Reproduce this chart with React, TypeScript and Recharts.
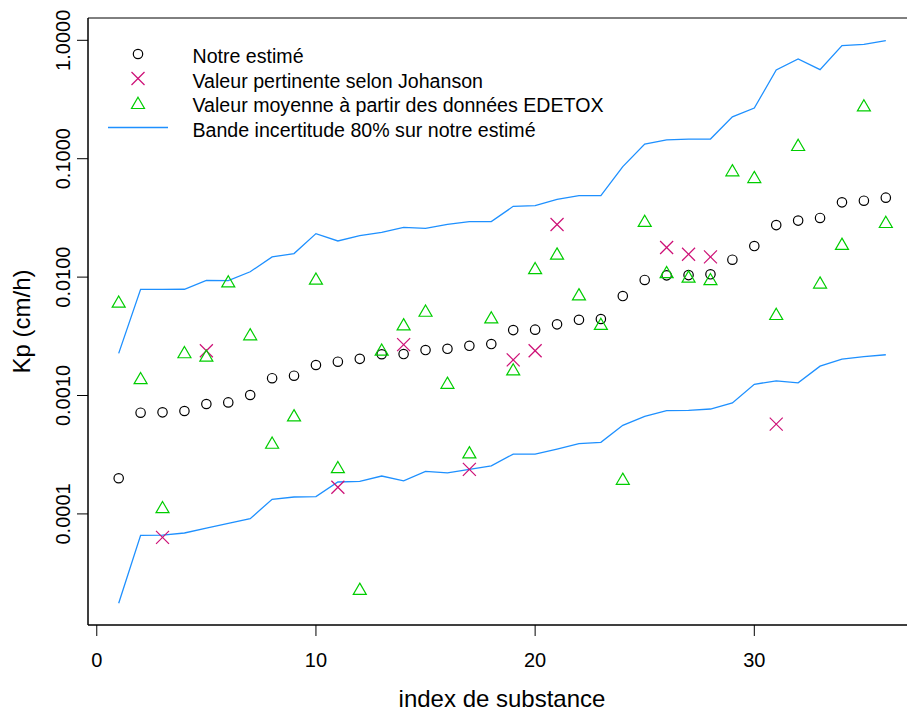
import {
  ComposedChart,
  Line,
  Scatter,
  XAxis,
  YAxis,
  ReferenceArea,
} from 'recharts'

const FONT = '"Liberation Sans", Arial, sans-serif'
const BLUE = '#1E90FF'
const PINK = '#CD1076'
const GREEN = '#00CD00'

// substance index 1..36
const substance = [
  1, 2, 3, 4, 5, 6, 7, 8, 9, 10, 11, 12, 13, 14, 15, 16, 17, 18,
  19, 20, 21, 22, 23, 24, 25, 26, 27, 28, 29, 30, 31, 32, 33, 34, 35, 36,
]

const estimate = [
  0.0002, 0.000716, 0.000721, 0.00074, 0.000848, 0.000875, 0.00101, 0.0014, 0.00147,
  0.00181, 0.00193, 0.00204, 0.00223, 0.00224, 0.00242, 0.00248, 0.00263, 0.00272,
  0.00357, 0.0036, 0.00399, 0.00436, 0.00443, 0.00692, 0.00946, 0.01035, 0.0104,
  0.01056, 0.01403, 0.0183, 0.0275, 0.03, 0.0316, 0.0428, 0.0442, 0.0469,
]

const upperBand = [
  0.00227, 0.00789, 0.00789, 0.0079, 0.0094, 0.00933, 0.0111, 0.0148, 0.0158,
  0.0233, 0.0202, 0.0224, 0.0239, 0.0263, 0.0258, 0.0279, 0.0294, 0.0294,
  0.0396, 0.0401, 0.0454, 0.0487, 0.0487, 0.0857, 0.133, 0.144, 0.1466,
  0.1466, 0.226, 0.268, 0.561, 0.695, 0.565, 0.901, 0.925, 0.993,
]

const lowerBand = [
  0.0000176, 0.0000659, 0.0000662, 0.000069, 0.000076, 0.0000832, 0.0000912, 0.000133, 0.000139,
  0.00014, 0.000186, 0.000188, 0.000209, 0.00019, 0.000229, 0.000222, 0.000238, 0.000255,
  0.00032, 0.00032, 0.000353, 0.000392, 0.000402, 0.00056, 0.000667, 0.000744, 0.000748,
  0.000769, 0.000865, 0.001245, 0.00133, 0.00128, 0.00177, 0.00203, 0.00213, 0.00221,
]

const edetox = [
  0.0062, 0.0014, 0.000114, 0.00232, 0.00217, 0.0092, 0.00329, 0.000399, 0.00068,
  0.0097, 0.000248, 0.0000233, 0.00244, 0.00399, 0.0052, 0.00128, 0.000331, 0.00457,
  0.00166, 0.0119, 0.0158, 0.00715, 0.00402, 0.000198, 0.0298, 0.011, 0.0101,
  0.0096, 0.0798, 0.07, 0.00488, 0.1305, 0.009, 0.0191, 0.282, 0.0292,
]

const johansonIndex = [3, 5, 11, 14, 17, 19, 20, 21, 26, 27, 28, 31]
const johanson = [
  0.0000634, 0.00239, 0.000168, 0.00269, 0.000238, 0.002, 0.00239, 0.0278,
  0.0178, 0.0156, 0.0148, 0.000574,
]

const xTicks = [0, 10, 20, 30]
const yTicks = [0.0001, 0.001, 0.01, 0.1, 1]
const X_DOMAIN: [number, number] = [-0.4, 37.4]
const Y_DOMAIN: [number, number] = [1.153e-5, 1.543]

const bandRows = substance.map((x, i) => ({ x, lo: lowerBand[i], hi: upperBand[i] }))
const estRows = substance.map((x, i) => ({ x, y: estimate[i] }))
const edeRows = substance.map((x, i) => ({ x, y: edetox[i] }))
const johRows = johansonIndex.map((x, i) => ({ x, y: johanson[i] }))

// eslint-disable-next-line @typescript-eslint/no-explicit-any
const OpenCircle = ({ cx, cy }: any) => (
  <circle cx={cx} cy={cy} r={4.7} fill="none" stroke="#000" strokeWidth={1.2} />
)

// eslint-disable-next-line @typescript-eslint/no-explicit-any
const Cross = ({ cx, cy }: any) => (
  <g stroke={PINK} strokeWidth={1.2}>
    <line x1={cx - 6.5} y1={cy - 6.5} x2={cx + 6.5} y2={cy + 6.5} />
    <line x1={cx - 6.5} y1={cy + 6.5} x2={cx + 6.5} y2={cy - 6.5} />
  </g>
)

// eslint-disable-next-line @typescript-eslint/no-explicit-any
const Triangle = ({ cx, cy }: any) => (
  <polygon
    points={`${cx},${cy - 5.7} ${cx + 6.5},${cy + 5.5} ${cx - 6.5},${cy + 5.5}`}
    fill="none"
    stroke={GREEN}
    strokeWidth={1.2}
  />
)

// eslint-disable-next-line @typescript-eslint/no-explicit-any
function YTick({ y, payload }: any) {
  return (
    <text
      x={70.5}
      y={y}
      transform={`rotate(-90, 70.5, ${y})`}
      textAnchor="middle"
      fontSize={20}
      fontFamily={FONT}
      fill="#000"
    >
      {payload.value.toFixed(4)}
    </text>
  )
}

// eslint-disable-next-line @typescript-eslint/no-explicit-any
function XTick({ x, payload }: any) {
  return (
    <text x={x} y={667} textAnchor="middle" fontSize={20} fontFamily={FONT} fill="#000">
      {payload.value}
    </text>
  )
}

function Legend() {
  const rows = [
    { label: 'Notre estimé', kind: 'circle' },
    { label: 'Valeur pertinente selon Johanson', kind: 'cross' },
    { label: 'Valeur moyenne à partir des données EDETOX', kind: 'triangle' },
    { label: 'Bande incertitude 80% sur notre estimé', kind: 'line' },
  ]
  return (
    <svg
      width={700}
      height={150}
      style={{ position: 'absolute', left: 0, top: 0, pointerEvents: 'none' }}
    >
      {rows.map((r, i) => {
        const cy = 54 + i * 24.5
        return (
          <g key={r.label}>
            {r.kind === 'circle' && <OpenCircle cx={138} cy={cy} />}
            {r.kind === 'cross' && <Cross cx={138} cy={cy} />}
            {r.kind === 'triangle' && <Triangle cx={138} cy={cy} />}
            {r.kind === 'line' && (
              <line x1={108} y1={cy} x2={168} y2={cy} stroke={BLUE} strokeWidth={1.3} />
            )}
            <text x={192.5} y={cy + 9.2} fontSize={19.6} fontFamily={FONT} fill="#000">
              {r.label}
            </text>
          </g>
        )
      })}
    </svg>
  )
}

export default function App() {
  return (
    <div
      style={{
        position: 'fixed',
        left: 0,
        top: 0,
        width: 907,
        height: 712,
        overflow: 'hidden',
        background: '#fff',
      }}
    >
      <ComposedChart
        width={930}
        height={712}
        data={bandRows}
        margin={{ top: 18, right: 13.5, bottom: 0, left: 0 }}
      >
        <XAxis
          type="number"
          dataKey="x"
          domain={X_DOMAIN}
          ticks={xTicks}
          allowDataOverflow
          height={87}
          tickSize={11}
          stroke="#000"
          tick={<XTick />}
          label={{
            value: 'index de substance',
            content: () => (
              <text
                x={502}
                y={707}
                textAnchor="middle"
                fontSize={24}
                fontFamily={FONT}
                fill="#000"
              >
                index de substance
              </text>
            ),
          }}
        />
        <YAxis
          scale="log"
          type="number"
          domain={Y_DOMAIN}
          ticks={yTicks}
          allowDataOverflow
          width={88}
          tickSize={11}
          stroke="#000"
          tick={<YTick />}
          label={{
            value: 'Kp (cm/h)',
            content: () => (
              <text
                x={29.5}
                y={321.5}
                transform="rotate(-90, 29.5, 321.5)"
                textAnchor="middle"
                fontSize={24}
                fontFamily={FONT}
                fill="#000"
              >
                Kp (cm/h)
              </text>
            ),
          }}
        />
        <ReferenceArea
          x1={X_DOMAIN[0]}
          x2={X_DOMAIN[1]}
          y1={Y_DOMAIN[0]}
          y2={Y_DOMAIN[1]}
          fill="none"
          stroke="#000"
          strokeWidth={1}
          ifOverflow="visible"
        />
        <Line
          dataKey="hi"
          stroke={BLUE}
          strokeWidth={1.3}
          dot={false}
          isAnimationActive={false}
        />
        <Line
          dataKey="lo"
          stroke={BLUE}
          strokeWidth={1.3}
          dot={false}
          isAnimationActive={false}
        />
        <Scatter data={estRows} dataKey="y" shape={<OpenCircle />} isAnimationActive={false} />
        <Scatter data={johRows} dataKey="y" shape={<Cross />} isAnimationActive={false} />
        <Scatter data={edeRows} dataKey="y" shape={<Triangle />} isAnimationActive={false} />
      </ComposedChart>
      <Legend />
    </div>
  )
}
